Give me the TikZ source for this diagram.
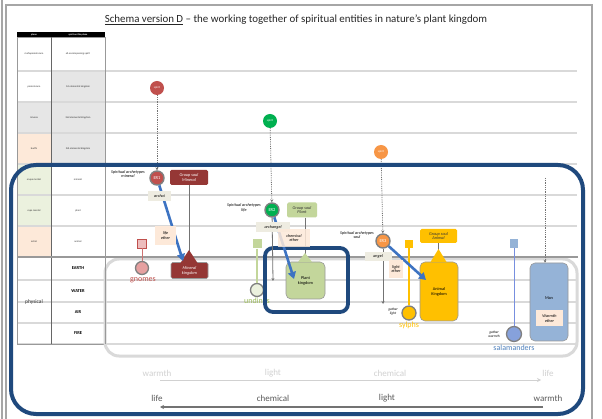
\documentclass[tikz,border=0pt]{standalone}
\usepackage{fontspec}
\setmainfont{Carlito}
\usetikzlibrary{arrows.meta}

\definecolor{navy}{RGB}{31,73,125}
\definecolor{rowline}{RGB}{217,217,217}
\definecolor{cellgray}{RGB}{230,230,230}
\definecolor{cellpeach}{RGB}{253,233,217}
\definecolor{cellgreen}{RGB}{235,241,222}
\definecolor{minred}{RGB}{149,55,53}
\definecolor{spred}{RGB}{192,80,77}
\definecolor{spgreen}{RGB}{0,176,80}
\definecolor{sporange}{RGB}{247,150,70}
\definecolor{plantgreen}{RGB}{195,214,155}
\definecolor{undgreen}{RGB}{155,187,89}
\definecolor{gold}{RGB}{255,192,0}
\definecolor{manblue}{RGB}{149,179,215}
\definecolor{salblue}{RGB}{79,129,189}
\definecolor{arrowblue}{RGB}{61,115,194}
\definecolor{beige}{RGB}{238,236,225}
\definecolor{gnomepink}{RGB}{230,160,160}

\newcommand{\fs}[1]{\fontsize{#1}{1.15\dimexpr #1pt\relax}\selectfont}

\tikzset{
  tabtxt/.style={font=\fs{2.6}, text=black!80, align=center, inner sep=0},
  elemtxt/.style={font=\bfseries\fs{4.5}, inner sep=0},
  spiritdot/.style={circle, minimum size=14, inner sep=0, font=\fs{3}, text=white},
  erdot/.style={circle, minimum size=14, inner sep=0, draw=black!50, line width=1.4, font=\fs{4.5}, text=white},
  archlabel/.style={font=\itshape\fs{4.2}, align=center, inner sep=0},
  soulbox/.style={rounded corners=1.5, inner sep=0, align=center, font=\itshape\fs{4.3}},
  etherbox/.style={fill=cellpeach, inner sep=0, align=center, font=\itshape\fs{4.2}},
  hierbox/.style={fill=beige, inner sep=0, align=center, font=\itshape\fs{4.2}},
  descent/.style={black!55, line width=0.8, densely dotted, -{Stealth[length=3,width=3]}},
  downarrow/.style={black!55, line width=0.8, -{Stealth[length=3,width=3]}},
  bluearrow/.style={arrowblue, line width=2.6, -{Triangle[length=7,width=8]}},
  soulline/.style={black!55, line width=0.8},
  elemcircle/.style={circle, minimum size=13, inner sep=0, draw=black!50, line width=1.3},
  elemname/.style={font=\fs{8}, inner sep=0},
  gathertxt/.style={font=\itshape\fs{3.5}, align=center, inner sep=0},
  flowfaint/.style={font=\fs{9}, text=black!18, inner sep=0},
  flowdark/.style={font=\fs{9}, text=black!65, inner sep=0}
}

\begin{document}
\begin{tikzpicture}[x=1pt,y=-1pt]
\useasboundingbox[fill=white] (0,0) rectangle (602,419);

% page frame
\draw[black!35, line width=1.2] (2,0) -- (2,419);
\draw[black!35, line width=1.2] (6,419) -- (6,5) -- (592,5) -- (592,419);

% title
\node[font=\fs{10.9}, text=black!85, inner sep=0] (title) at (296,20)
  {\underline{Schema version D} -- the working together of spiritual entities in nature’s plant kingdom};

% ---------- table of planes ----------
% row fills
\fill[white]      (17,37)  rectangle (51,71);
\fill[white]      (51,37)  rectangle (105,71);
\fill[white]      (17,71)  rectangle (51,102);
\fill[cellgray]   (51,71)  rectangle (105,102);
\fill[cellgray]   (17,102) rectangle (51,133);
\fill[cellgray]   (51,102) rectangle (105,133);
\fill[cellpeach]  (17,133) rectangle (51,164);
\fill[cellgray]   (51,133) rectangle (105,164);
\fill[cellgreen]  (17,164) rectangle (51,195);
\fill[cellgreen]  (17,195) rectangle (51,226);
\fill[cellpeach]  (17,226) rectangle (51,257);
% header bar
\fill[black] (17,32) rectangle (105,37);
\node[font=\bfseries\fs{2.4}, text=white, inner sep=0] (h1) at (34,34.5) {plane};
\node[font=\bfseries\fs{2.4}, text=white, inner sep=0] (h2) at (78,34.5) {spirit on this plane};

% horizontal plane lines
\foreach \yy in {71,102,133,164,195,226}
  \draw[rowline, line width=1.3] (17,\yy) -- (577,\yy);
\foreach \yy in {280,302,323,344}
  \draw[rowline, line width=1.3] (17,\yy) -- (576,\yy);
% table borders
\draw[black!40, line width=0.6] (17,37) rectangle (105,344);
\draw[black!60, line width=0.8] (51,37) -- (51,344);

% table texts
\node[tabtxt] (p1) at (34,54)   {mahaparanirvana};
\node[tabtxt] (s1) at (78,54)   {all-encompassing spirit};
\node[tabtxt] (p2) at (34,87)   {paranirvana};
\node[tabtxt] (s2) at (78,87)   {1st elemental kingdom};
\node[tabtxt] (p3) at (34,118)  {nirvana};
\node[tabtxt] (s3) at (78,118)  {2nd elemental kingdom};
\node[tabtxt] (p4) at (34,149)  {budhi};
\node[tabtxt] (s4) at (78,149)  {3rd elemental kingdom};
\node[tabtxt] (p5) at (34,180)  {arupa mental};
\node[tabtxt] (s5) at (78,180)  {mineral};
\node[tabtxt] (p6) at (34,211)  {rupa mental};
\node[tabtxt] (s6) at (78,211)  {plant};
\node[tabtxt] (p7) at (34,242)  {astral};
\node[tabtxt] (s7) at (78,242)  {animal};
\node[font=\fs{5.5}, text=black!80, inner sep=0] (phys) at (34,302) {physical};
\node[elemtxt] (earth) at (78,268.5) {EARTH};
\node[elemtxt] (water) at (78,291)   {WATER};
\node[elemtxt] (air)   at (78,312.5) {AIR};
\node[elemtxt] (fire)  at (78,333.5) {FIRE};

% physical world frame
\draw[rowline, line width=3, rounded corners=14] (105,259) rectangle (577,356);
\draw[black!40, line width=2] (17,257) -- (578,257);
\draw[black!40, line width=0.6] (105,37) -- (105,344);

% ---------- flows of ethers ----------
\node[flowfaint] (fw1) at (157,373) {warmth};
\node[flowfaint] (fw2) at (273,373) {light};
\node[flowfaint] (fw3) at (390,373) {chemical};
\node[flowfaint] (fw4) at (548,373) {life};
\coordinate (upstart) at (160,380);
\coordinate (upend)   at (541,380);
\draw[black!18, line width=0.8, -{Stealth[length=4,width=4]}] (upstart) -- (upend);
\node[flowdark] (fd1) at (157,398) {life};
\node[flowdark] (fd2) at (273,398) {chemical};
\node[flowdark] (fd3) at (387,398) {light};
\node[flowdark] (fd4) at (548,398) {warmth};
\coordinate (downstart) at (543,407);
\coordinate (downend)   at (160,407);
\draw[black!55, line width=1.3, -{Stealth[length=4,width=4]}] (downstart) -- (downend);

% ---------- elementals (drawn below the kingdoms) ----------
% gnomes
\node[draw=spred, fill=gnomepink!70, minimum size=9, inner sep=0] (gsq) at (142,243.5) {};
\node[elemcircle, fill=gnomepink] (gci) at (142,268) {};
\draw[spred!80, line width=0.9] (gsq) -- (gci);
\node[elemname, text=spred] (gnomes) at (143,280) {gnomes};
% undines
\node[fill=plantgreen, minimum size=9, inner sep=0] (usq) at (257,244) {};
\node[elemcircle, fill=cellgreen] (uci) at (257,290) {};
\draw[plantgreen, line width=1.2] (usq) -- (uci);
\node[elemname, text=undgreen] (undines) at (257,301) {undines};
% sylphs
\node[fill=gold, minimum size=8, inner sep=0] (ssq) at (409,244) {};
\node[elemcircle, fill=gold, minimum size=14] (sci) at (409,313) {};
\draw[gold, line width=1.2] (ssq) -- (sci);
\node[elemname, text=gold] (sylphs) at (409,325) {sylphs};
\node[gathertxt] (glight) at (393,312) {gather\\light};
% salamanders
\node[fill=manblue, minimum size=8.5, inner sep=0] (bsq) at (514,243.5) {};
\node[elemcircle, fill=manblue!90!blue, minimum size=15] (bci) at (514,334) {};
\draw[manblue!80!blue, line width=1] (bsq) -- (bci);
\node[elemname, text=salblue] (salam) at (514,348) {salamanders};
\node[gathertxt] (gwarm) at (494,334) {gather\\warmth};

% ---------- spirits ----------
\node[spiritdot, fill=spred]    (sp1) at (157,88)  {spirit};
\node[spiritdot, fill=spgreen]  (sp2) at (270,121) {spirit};
\node[spiritdot, fill=sporange] (sp3) at (381,152) {spirit};
\coordinate (sp4) at (545,178);

\node[erdot, fill=spred]    (er1) at (157,178) {ER1};
\node[erdot, fill=spgreen]  (er2) at (272,210) {ER2};
\node[erdot, fill=sporange] (er3) at (383,241) {ER3};

\draw[descent] (sp1) -- (er1);
\draw[descent] (sp2) -- (er2);
\draw[descent] (sp3) -- (er3);

\node[archlabel] (al1) at (128,174) {Spiritual archetypes\\mineral};
\node[archlabel] (al2) at (244,208) {Spiritual archetypes\\life};
\node[archlabel] (al3) at (357,235) {Spiritual archetypes\\soul};

% ---------- group souls and kingdoms ----------
\node[soulbox, fill=minred, text=white, minimum width=38, minimum height=15] (gs1) at (189,177.5) {Group soul\\Mineral};
\node[soulbox, fill=plantgreen, text=black!80, minimum width=30, minimum height=15] (gs2) at (302,210) {Group soul\\Plant};
\node[soulbox, fill=gold, text=black!80, minimum width=37, minimum height=14] (gs3) at (438.5,236) {Group soul\\Animal};

\node[soulbox, fill=minred, draw=black!40, line width=0.6, text=white, minimum width=37, minimum height=16] (mk) at (189.5,270.5) {Mineral\\kingdom};
\node[fill=plantgreen, draw=black!40, line width=0.6, rounded corners=5, minimum width=39, minimum height=37, inner sep=0, align=center, font=\fs{4.3}] (pk) at (305.5,280.5) {Plant\\kingdom};
\node[fill=gold, draw=black!40, line width=0.6, rounded corners=5, minimum width=38, minimum height=59, inner sep=0, align=center, font=\fs{4.3}] (ak) at (439,291.5) {Animal\\Kingdom};
\node[fill=manblue, draw=black!40, line width=0.6, rounded corners=5, minimum width=38, minimum height=78, inner sep=0] (man) at (549,302) {};
\node[font=\fs{4.3}, inner sep=0] (mantxt) at (549,298) {Man};
\node[etherbox, minimum width=27, minimum height=16] (wether) at (549.5,318.5) {Warmth\\ether};

% group soul links with their triangles
\draw[soulline] (gs1) -- (189,253);
\draw[soulline] (gs2.south -| 305,0) -- (305,255);
\draw[soulline] (gs3) -- (438.5,251);
\fill[minred] (189,250) -- (197.5,263) -- (180.5,263) -- cycle;
\fill[plantgreen] (305,253) -- (312,262) -- (298,262) -- cycle;
\fill[gold] (438.5,249) -- (446.5,262) -- (430.5,262) -- cycle;

% frame round the plant kingdom
\draw[navy, line width=3.8, rounded corners=8] (265,248) rectangle (348,312);

% descending arrows of the archetypes
\draw[downarrow] (er2) -- (273,281);
\draw[downarrow] (er3) -- (383,304);
\draw[descent] (sp4) -- (man.north -| sp4);

% working of the hierarchies into the kingdoms
\draw[bluearrow] (er1) -- (183,261);
\draw[bluearrow] (er2) -- (294,279);
\draw[bluearrow] (er3) -- (426,280);

\node[hierbox, minimum width=23, minimum height=10] (h1b) at (159.5,196) {archai};
\node[hierbox, minimum width=34, minimum height=10] (h2b) at (273,227) {archangel};
\node[hierbox, minimum width=27, minimum height=9] (h3b) at (378,256.5) {angel};

\node[etherbox, minimum width=21, minimum height=19] (e1) at (165.5,235.5) {life\\ether};
\node[etherbox, minimum width=32, minimum height=18, fill opacity=0.85, text opacity=1] (e2) at (294,238) {chemical\\ether};
\node[etherbox, minimum width=14, minimum height=18] (e3) at (396,269) {light\\ether};

% outer frame of the lower worlds
\draw[navy, line width=4, rounded corners=25] (11,165) rectangle (583,414);

\end{tikzpicture}
\end{document}
